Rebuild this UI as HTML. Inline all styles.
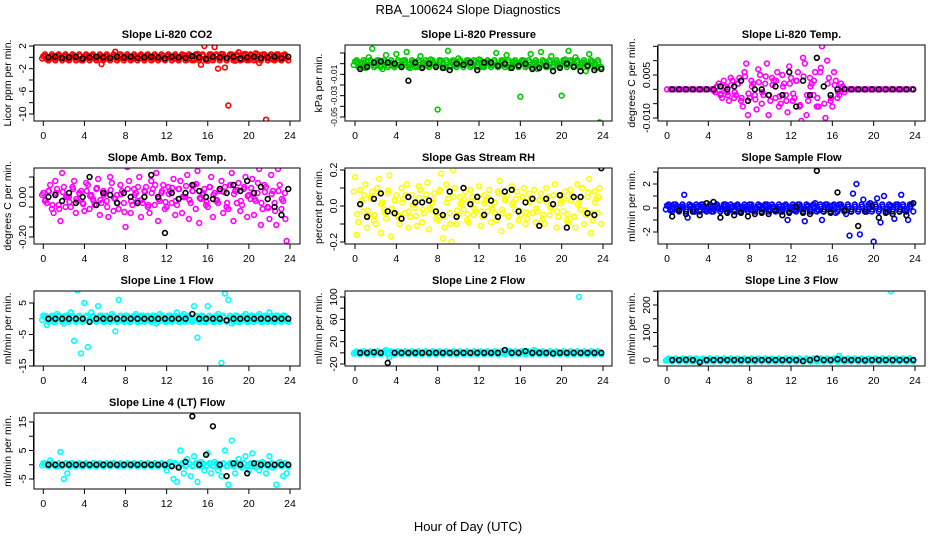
<!DOCTYPE html>
<html><head><meta charset="utf-8"><style>
html,body{margin:0;padding:0;background:#fff;}
svg{display:block;font-family:"Liberation Sans",sans-serif;}
</style></head><body>
<svg id="chart" width="936" height="540">
<rect width="936" height="540" fill="#fff"/>
<text x="468" y="14" text-anchor="middle" font-size="13">RBA_100624  Slope Diagnostics</text>
<text x="468" y="531" text-anchor="middle" font-size="13">Hour of Day (UTC)</text>
</svg>
<script>
const xTicks = [0,4,8,12,16,20,24];
const titles = ["Slope Li-820 CO2","Slope Li-820 Pressure","Slope Li-820 Temp.","Slope Amb. Box Temp.","Slope Gas Stream RH","Slope Sample Flow","Slope Line 1 Flow","Slope Line 2 Flow","Slope Line 3 Flow","Slope Line 4 (LT) Flow"];
const yTitles = ["Licor ppm per min.","kPa per min.","degrees C per min.","degrees C per min.","percent per min.","ml/min per min.","ml/min per min.","ml/min per min.","ml/min per min.","ml/min per min."];
const colors = ["#ff0000","#00c800","#ff00ff","#ff00ff","#ffff00","#0000ff","#00ffff","#00ffff","#00ffff","#00ffff"];
const yTickVals = [[2,0,-2,-4,-6,-8,-10],[0.01,0,-0.01,-0.02,-0.03,-0.04,-0.05],[0.015,0.01,0.005,0,-0.005,-0.01],[0.1,0.05,0,-0.05,-0.1,-0.15,-0.2],[0.2,0.1,0,-0.1,-0.2],[3,2,1,0,-1,-2],[5,0,-5,-10,-15],[100,80,60,40,20,0,-20],[0,50,100,150,200,250],[15,10,5,0,-5]];
const yLabelVals = [[2,-2,-6,-10],[-0.01,-0.03,-0.05],[0.005,-0.01],[0,-0.2],[0.2,0,-0.2],[2,0,-2],[5,-5,-15],[100,60,20,-20],[0,100,200],[15,5,-5]];
const yLabelText = [["2","-2","-6","-10"],["-0.01","-0.03","-0.05"],["0.005","-0.010"],["0.00","-0.20"],["0.2","0.0","-0.2"],["2","0","-2"],["5","-5","-15"],["100","60","20","-20"],["0","100","200"],["15","5","-5"]];

const colored = [
[0.2,-0.3,0.1,-0.2,0.3,-0.1,0.2,-0.3,0,0.3,-0.2,-0.5,0.2,-0.1,0.3,-0.2,0.1,-1.2,0.2,-0.3,0.1,1.0,-0.2,0.3,-0.1,0.2,-0.3,0.1,0.2,-0.2,0.3,0,-0.3,0.2,0.1,-0.2,0.3,-0.1,0.2,-0.3,0.1,0.4,-0.4,0.3,-0.5,0.6,-1.3,2.0,-0.6,0.5,1.8,-2.0,0.6,-1.8,-8.5,0.5,-0.6,0.9,-0.4,0.6,-0.5,0.4,0.7,-1.0,0.5,-11,0.3,-0.4,0.5,-0.3,0.4,-0.2],
[.002,-.003,.001,-.004,.006,.014,-.002,.003,-.005,.008,.001,-.002,.009,-.001,.003,.011,-.004,.002,-.003,.007,.001,-.002,.004,-.001,-.043,.003,-.004,.012,.002,-.002,.005,-.001,.001,.003,-.002,.002,.004,-.003,.001,.002,-.001,.010,-.002,.003,.008,-.004,.002,.001,-.031,.003,-.002,.009,.001,-.005,.011,.002,-.003,.007,.001,-.002,-.030,.004,.012,.002,.006,-.003,.001,-.007,.009,.002,-.004,-.055],
[0,0,0,0,0,0,0,0,0,0,0,0,0,0,-0.001,0.002,-0.003,0.001,-0.004,0.003,-0.002,0.004,-0.006,0.009,-0.003,0.002,-0.007,0.005,-0.002,0.009,-0.004,0.003,0.006,-0.005,0.002,-0.008,0.004,-0.003,0.006,-0.011,0.009,-0.004,0.002,0.006,-0.006,0.015,-0.010,0.004,-0.006,0.003,-0.002,0.001,0,0,0,0,0,0,0,0,0,0,0,0,0,0,0,0,0,0,0,0],
[.02,-.03,.06,-.08,.04,-.12,.05,0,-.05,.08,-.02,.03,-.07,.06,.01,-.04,.09,-.03,.02,-.10,.07,-.01,-.06,.03,-.15,.08,-.04,.02,.10,-.03,.05,-.08,.04,.12,-.02,.06,-.05,.03,.09,-.04,.08,0,.11,-.03,.06,.13,-.01,.04,-.05,.10,.02,-.03,.08,.05,-.06,.12,.03,.07,-.04,.10,.01,.09,-.02,.14,-.06,.05,-.11,.03,-.14,.06,-.02,-.22],
[.16,-.09,.03,.12,-.05,.08,-.10,.15,.02,-.07,.17,-.03,.06,-.10,.04,.12,-.06,.01,-.11,.09,-.04,.13,-.02,.07,-.08,.18,-.12,.04,-.20,.10,-.05,.02,.08,-.09,.05,-.03,.11,-.06,.03,.09,-.02,-.08,.14,-.04,.06,-.11,.02,.08,-.05,.10,-.07,.04,.09,-.03,.07,-.10,.05,-.01,.12,-.06,.03,.08,-.09,.06,-.12,.02,.10,-.05,.15,-.08,.04,.10],
[.2,-.2,.3,-.1,.1,1.1,-.8,.2,-.3,.1,.3,-.2,.1,-.3,.2,0,-.1,.3,-.2,.1,.2,-.3,.1,-.1,.3,-.2,0,.2,-.1,.3,-.2,.1,0,-.3,.2,-1.0,.1,-.2,.3,-.1,-1.1,.2,-.3,.4,-.2,-1.0,.3,-.1,.2,-.4,.3,0,-.5,-2.3,1.2,2.0,-2.2,.7,-.3,.4,-2.8,.8,-1.2,1.0,-.3,.2,-.9,.3,1.1,-.2,-1.0,.3],
[1,-2,.5,-1,1.5,.8,-1.5,1,2,-7,9,-11,5,-9,2,-.5,4,1,-1,.5,1.5,-4,6,-.5,1,-1,.5,1.5,-1,1,.5,-.5,1,-1.5,1.5,.5,-1,1,.5,2,-1,1.5,.5,-.5,4,-6,1,-1,4,.5,-1,1.5,-14,8,6,-1.5,1,-1,.5,1.5,-1,1,-.5,1.5,-1,.5,2,-1,1,-.5,1,-.5],
[1,-1,2,0,-1,1,2,-1,1,5,-8,1,-1,2,0,1,-1,1,2,-1,0,1,-1,2,1,-1,0,1,-1,2,0,1,-1,1,0,-1,2,1,-1,0,1,2,-1,1,0,3,-1,1,2,-1,1,0,5,2,-1,1,0,2,-1,1,0,1,-1,2,1,100,0,-1,1,2,-1,1],
[1,-2,2,0,-1,1,2,-1,1,3,-5,1,-2,2,0,1,-1,1,2,-1,0,1,-1,2,1,-2,0,1,-1,2,0,1,-1,1,0,-1,2,1,-1,0,1,2,-4,1,0,3,-1,1,2,-1,15,0,3,-3,-1,1,0,2,-1,1,0,1,-1,2,1,250,0,-1,1,2,-1,1],
[0.5,-0.3,1.5,0.3,-0.5,4.5,-5,-3,0.5,-0.2,0.3,-0.4,0.2,0,-0.3,0.5,0.2,-0.2,0.3,-0.1,0.4,0,-0.3,0.2,0.1,-0.2,0.3,0,-0.2,0.1,0.3,-0.1,0.2,-0.3,0.1,0,-2,1,-5,-6,5,-3,2,-4,3,-6,1,-2,4,-3,1,-2,-4,5,-7,8.5,-3,2,-1,3,-2,4,-1,-2,1,-3,3,-1,-7,1,-4,-3]
];
const black = [
[0,0.1,-0.1,0,0.1,-0.2,0,0.1,0,-0.1,0.1,0,0.1,-0.1,0,0.1,0,-0.2,0.1,0,-0.1,0.2,0,-0.3,0.1,0,-0.1,0.1,-0.2,0,0.1,-0.1,0,0.1,-0.1,0.1],
[-.005,-.003,.001,.002,.001,0,-.003,-.016,.001,-.004,0,-.003,-.004,-.006,0,-.001,.001,-.006,.001,.001,-.002,0,-.004,-.002,0,-.005,-.004,-.002,-.007,-.004,0,-.003,-.007,-.002,-.006,-.005],
[0,0,0,0,0,0,0,0.001,0,0.001,0.003,-0.004,0,0,-0.002,0.001,-0.002,0.006,-0.006,0.003,-0.002,0.011,0.001,-0.002,0,0,0,0,0,0,0,0,0,0,0,0],
[0,.01,-.02,.02,-.03,0,.1,-.04,.02,.01,-.03,.02,0,-.03,0,.11,0,-.18,.02,-.01,.02,.06,.03,0,-.01,.04,.02,.06,.03,.08,.02,.05,-.01,-.05,-.09,.04],
[.01,-.06,.04,.07,-.03,-.04,-.07,.05,.02,.02,.03,-.03,-.05,.08,-.06,.10,.01,.05,-.05,.03,-.06,.08,.09,-.03,.02,.04,-.11,.04,.01,.06,-.12,.05,.05,-.04,-.05,.21],
[-.7,-.2,-.5,-.3,-.6,.4,.5,-.8,-.4,-.6,-.4,-.7,-.5,-.4,-.5,-.2,-.6,-.4,.1,-.4,-.5,3.1,-.3,-.4,1.3,-.2,-.3,-1.5,-.3,.2,-.8,-.4,-.5,-.3,-.6,.4],
[0,0,0,0,0,0,-1,0,0,0,0,0,0,0,0,0,0,0,0,0,0,1.5,0,0,0,0,-0.5,0,0,0,0,0,0,0,0,0],
[0,0,1,0,-18,0,0,0,0,0,0,0,0,0,0,0,0,0,0,0,0,5,0,0,3,0,0,0,-1,0,0,0,0,0,0,0],
[0,0,1,0,-8,0,0,0,0,0,0,0,0,0,0,0,0,0,0,-4,0,5,0,0,3,0,0,0,-1,0,0,0,0,0,0,0],
[0,0,0,0,0,0,0,0,0,0,0,0,0,0,0,0,0,0,-0.5,-1,1,17,0,3.5,13.5,0,-4,0.5,0,-3,0.5,0,0,0,0,0]
];
// layout/style (pixel geometry, not data)
const colX = [[34,300,43.3,290],[345,612,355,603],[658,925,667,915]];
const rowY = [[45,121],[168,244],[291,366],[413,489]];
const yMapRef = [[2,46,-10,114],[0.01,53,-0.05,117],[0.005,75,-0.01,118],[0,197,-0.2,237],[0.2,170,-0.2,242],[2,184,-2,232],[5,303,-15,366],[100,297,-20,364],[0,360,200,305],[15,422,-5,479]];
const bandPx = [3,3.5,0,0,0,3.5,3,1.5,1.5,1.5];   // thickness of dense band drawn at zero line
const scatterMode = [false,false,true,true,true,false,false,false,false,false];
const tickFont = [10.5,8.5,10.5,10.5,10.5,10.5,10.5,10.5,10.5,10.5];

const svg = document.getElementById('chart');
const NS = 'http://www.w3.org/2000/svg';
function mk(tag, attrs, parent){ const e=document.createElementNS(NS,tag); for(const k in attrs) e.setAttribute(k,attrs[k]); parent.appendChild(e); return e; }

for (let p=0;p<10;p++){
  const c=p%3, r=Math.floor(p/3);
  const [bl,br,x0,x24]=colX[c], [bt,bb]=rowY[r];
  const [va,ya,vb,yb]=yMapRef[p];
  const xs = t => x0 + (x24-x0)*t/24;
  const ys = v => ya + (v-va)*(yb-ya)/(vb-va);
  const g = mk('g',{},svg);
  
  
  const defs = mk('clipPath',{id:'cp'+p},g);
  mk('rect',{x:bl,y:bt,width:br-bl,height:bb-bt},defs);
  const t = mk('text',{x:(bl+br)/2,y:bt-7,'text-anchor':'middle','font-size':11,'font-weight':'bold'},g);
  t.textContent = titles[p];
  
  
  const yt = mk('text',{x:0,y:0,'text-anchor':'middle','font-size':10.5,transform:`translate(${bl-23},${(bt+bb)/2}) rotate(-90)`},g);
  yt.textContent = yTitles[p];
  
  
  const pts = mk('g',{'clip-path':`url(#cp${p})`,fill:'none','stroke-width':1.6},g);
  const y0 = ys(0), B = bandPx[p];
  colored[p].forEach((v,i)=>{
    const cx = xs(i/3), cy = ys(v);
    let e1, e2;
    if (scatterMode[p]) {
      e1 = [cx+1.7, 2*y0-cy];
      e2 = [cx-1.2, y0+(cy-y0)*0.5];
    } else {
      e1 = [cx+1.7, y0+(i%2?B:-B)];
      e2 = [cx-1.2, y0+(i%2?-B*0.4:B*0.4)];
    }
    if (!(p===2 && v===0)) {
      const c1 = mk('circle',{cx:e1[0],cy:e1[1],r:2.4,stroke:colors[p]},pts);
      
      
      const c2 = mk('circle',{cx:e2[0],cy:e2[1],r:2.4,stroke:colors[p]},pts);
      
      
    }
    const cc = mk('circle',{cx:cx,cy:cy,r:2.4,stroke:colors[p]},pts);
    
    
  });
  black[p].forEach((v,j)=>{
    const cc = mk('circle',{cx:xs(0.5+j*2/3),cy:ys(v),r:2.4,stroke:'#000'},pts);
    
    
  });
  const box = mk('rect',{x:bl,y:bt,width:br-bl,height:bb-bt,fill:'none',stroke:'#000','stroke-width':1},g);
  
  
  mk('line',{x1:xs(0),x2:xs(24),y1:bb,y2:bb,stroke:'#000'},g);
  xTicks.forEach(tv=>{
    mk('line',{x1:xs(tv),x2:xs(tv),y1:bb,y2:bb+5,stroke:'#000'},g);
    const l = mk('text',{x:xs(tv),y:bb+18,'text-anchor':'middle','font-size':10.5},g);
    l.textContent = tv;
    
    
  });
  const yv = yTickVals[p];
  const ymin = Math.min(...yv.map(ys)), ymax = Math.max(...yv.map(ys));
  mk('line',{x1:bl-0.5,x2:bl-0.5,y1:Math.max(ymin,bt-2),y2:ymax,stroke:'#000'},g);
  yv.forEach(v=>{ const y=ys(v); mk('line',{x1:bl-5,x2:bl,y1:y,y2:y,stroke:'#000'},g); });
  yLabelVals[p].forEach((v,k)=>{
    const l = mk('text',{x:0,y:0,'text-anchor':'middle','font-size':tickFont[p],transform:`translate(${bl-8},${ys(v)}) rotate(-90)`},g);
    l.textContent = yLabelText[p][k];
    
    
  });
}
</script>
</body></html>
